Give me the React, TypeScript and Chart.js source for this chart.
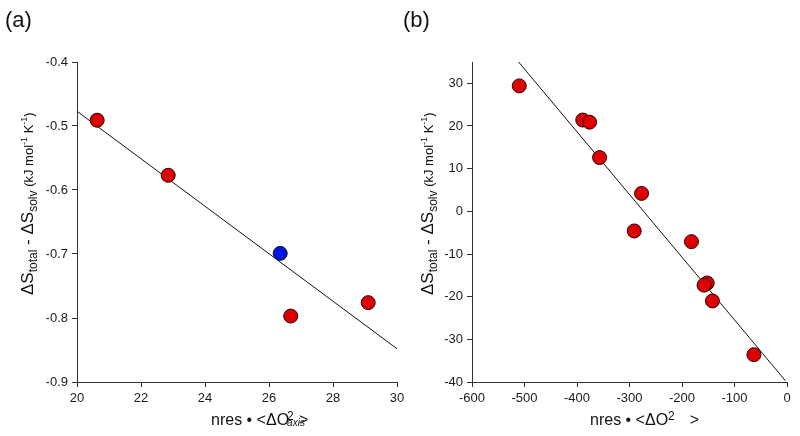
import React, { useEffect, useRef } from "react";
import { Chart, registerables } from "chart.js";

Chart.register(...registerables);

const FONT = '"Liberation Sans", Arial, Helvetica, sans-serif';

// Panel (a)
const aRedX = [20.63, 22.85, 26.68, 29.1];
const aRedY = [-0.491, -0.577, -0.797, -0.776];
const aBlueX = [26.35];
const aBlueY = [-0.699];
const aFitX = [20, 30];
const aFitY = [-0.477, -0.848];
const aXTicks = { min: 20, max: 30, step: 2 };
const aYTicks = { min: -0.9, max: -0.4, step: 0.1 };

// Panel (b)
const bRedX = [-510, -389, -376, -357, -277, -291, -182, -152, -158, -142, -63];
const bRedY = [29.4, 21.4, 20.9, 12.6, 4.2, -4.6, -7.1, -16.8, -17.3, -21.0, -33.6];
const bFitX = [-512, -3];
const bFitY = [35.1, -39.7];
const bXTicks = { min: -600, max: 0, step: 100 };
const bYTicks = { min: -40, max: 35, step: 10 };

const RED = "rgb(220,0,0)";
const BLUE = "rgb(0,20,230)";

type Seg = { t: string; size: number; dy?: number; dx?: number; italic?: boolean; noAdvance?: boolean };

function drawRich(ctx: CanvasRenderingContext2D, segs: Seg[], x: number, y: number, rotate: boolean) {
  ctx.save();
  ctx.translate(x, y);
  if (rotate) ctx.rotate(-Math.PI / 2);
  ctx.fillStyle = "#111";
  ctx.textBaseline = "alphabetic";
  ctx.textAlign = "left";
  let cx = 0;
  for (const s of segs) {
    ctx.font = `${s.italic ? "italic " : ""}${s.size}px ${FONT}`;
    if (s.dx) cx += s.dx;
    ctx.fillText(s.t, cx, s.dy || 0);
    if (!s.noAdvance) cx += ctx.measureText(s.t).width;
  }
  ctx.restore();
}

const yTitleSegs: Seg[] = [
  { t: "ΔS", size: 17 },
  { t: "total", size: 12, dy: 4 },
  { t: " - ", size: 17 },
  { t: "ΔS", size: 17 },
  { t: "solv", size: 12, dy: 4 },
  { t: " (kJ mol", size: 13 },
  { t: "-1", size: 9, dy: -6 },
  { t: " K", size: 13 },
  { t: "-1", size: 9, dy: -6 },
  { t: ")", size: 13 },
];

const xTitleA: Seg[] = [
  { t: "nres • <ΔO", size: 16 },
  { t: "2", size: 12, dy: -5, dx: -2, noAdvance: true },
  { t: "axis", size: 10, italic: true, dy: 1, dx: 0 },
  { t: ">", size: 16, dx: -6 },
];

const xTitleB: Seg[] = [
  { t: "nres • <ΔO", size: 16 },
  { t: "2", size: 12, dy: -5 },
  { t: ">", size: 16, dx: 15 },
];

function makeScales(xt: any, yt: any, yWidth: number, yFmt: (v: number) => string) {
  const common = {
    type: "linear" as const,
    grid: {
      display: true,
      drawOnChartArea: false,
      drawTicks: true,
      tickLength: 5,
      tickColor: "#333",
      tickWidth: 1,
    },
    border: { display: true, color: "#333", width: 1 },
  };
  return {
    x: {
      ...common,
      min: xt.min,
      max: xt.max,
      ticks: {
        stepSize: xt.step,
        includeBounds: false,
        autoSkip: false,
        maxRotation: 0,
        padding: 4,
        color: "#1a1a1a",
        font: { family: FONT, size: 13 },
        callback: (v: any) => String(Math.round(Number(v))),
      },
      afterFit: (s: any) => {
        s.height = 54;
      },
    },
    y: {
      ...common,
      min: yt.min,
      max: yt.max,
      ticks: {
        stepSize: yt.step,
        includeBounds: false,
        autoSkip: false,
        padding: 4,
        color: "#1a1a1a",
        font: { family: FONT, size: 13 },
        callback: (v: any) => yFmt(Number(v)),
      },
      afterFit: (s: any) => {
        s.width = yWidth;
      },
    },
  };
}

function Panel(props: {
  left: number;
  width: number;
  config: () => any;
}) {
  const ref = useRef<HTMLCanvasElement | null>(null);
  useEffect(() => {
    if (!ref.current) return;
    const chart = new Chart(ref.current, props.config());
    return () => chart.destroy();
  }, []);
  return (
    <canvas
      ref={ref}
      width={props.width}
      height={436}
      style={{ position: "absolute", left: props.left, top: 0, width: props.width, height: 436 }}
    />
  );
}

function pts(xs: number[], ys: number[]) {
  return xs.map((x, i) => ({ x, y: ys[i] }));
}

function configA() {
  return {
    type: "scatter",
    data: {
      datasets: [
        {
          data: pts(aBlueX, aBlueY),
          pointRadius: 7,
          pointBackgroundColor: BLUE,
          pointBorderColor: "#111",
          pointBorderWidth: 1,
        },
        {
          data: pts(aRedX, aRedY),
          pointRadius: 7,
          pointBackgroundColor: RED,
          pointBorderColor: "#2a0000",
          pointBorderWidth: 1,
        },
        {
          data: pts(aFitX, aFitY),
          showLine: true,
          pointRadius: 0,
          borderColor: "#111",
          borderWidth: 1,
        },
      ],
    },
    options: {
      animation: false,
      responsive: false,
      maintainAspectRatio: false,
      layout: { padding: { top: 62, right: 23, left: 0, bottom: 0 } },
      plugins: { legend: { display: false }, tooltip: { enabled: false } },
      scales: makeScales(aXTicks, aYTicks, 77, (v) => v.toFixed(1)),
    },
    plugins: [
      {
        id: "titlesA",
        afterDraw(chart: any) {
          const ctx = chart.ctx;
          drawRich(ctx, [{ t: "(a)", size: 22 }], 5, 27, false);
          drawRich(ctx, yTitleSegs, 33, 295, true);
          drawRich(ctx, xTitleA, 211, 425, false);
        },
      },
    ],
  };
}

function configB() {
  return {
    type: "scatter",
    data: {
      datasets: [
        {
          data: pts(bRedX, bRedY),
          pointRadius: 7,
          pointBackgroundColor: RED,
          pointBorderColor: "#2a0000",
          pointBorderWidth: 1,
        },
        {
          data: pts(bFitX, bFitY),
          showLine: true,
          pointRadius: 0,
          borderColor: "#111",
          borderWidth: 1,
        },
      ],
    },
    options: {
      animation: false,
      responsive: false,
      maintainAspectRatio: false,
      layout: { padding: { top: 62, right: 13, left: 0, bottom: 0 } },
      plugins: { legend: { display: false }, tooltip: { enabled: false } },
      scales: makeScales(bXTicks, bYTicks, 72, (v) => String(Math.round(v))),
    },
    plugins: [
      {
        id: "titlesB",
        afterDraw(chart: any) {
          const ctx = chart.ctx;
          drawRich(ctx, [{ t: "(b)", size: 22 }], 3, 27, false);
          drawRich(ctx, yTitleSegs, 33, 295, true);
          drawRich(ctx, xTitleB, 190, 425, false);
        },
      },
    ],
  };
}

export default function App() {
  return (
    <div style={{ position: "absolute", left: 0, top: 0, width: 800, height: 436, background: "#fff", overflow: "hidden" }}>
      <Panel left={0} width={420} config={configA} />
      <Panel left={400} width={400} config={configB} />
    </div>
  );
}
